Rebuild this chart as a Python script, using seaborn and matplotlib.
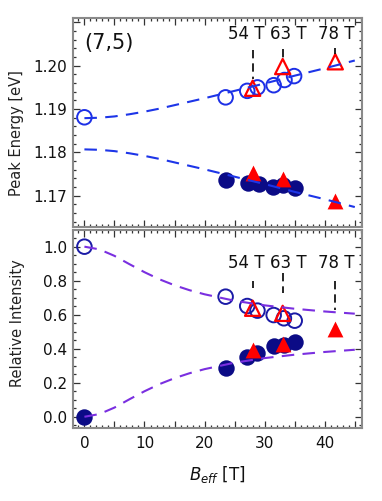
import matplotlib
matplotlib.use("Agg")
import matplotlib.pyplot as plt
import seaborn as sns
import numpy as np
from matplotlib.ticker import MultipleLocator, FuncFormatter, FormatStrFormatter

sns.set_theme(style="white")
plt.rcParams['font.family'] = ['DejaVu Sans']
plt.rcParams['mathtext.fontset'] = 'dejavusans'

# ---------------- data ----------------
# top panel: peak energy [eV]
B_open_top = [0.0, 23.5, 27.1, 28.8, 31.5, 33.3, 34.9]
E_open_top = [1.1881, 1.1927, 1.1942, 1.1950, 1.1955, 1.1967, 1.1976]
B_fill_top = [23.5, 27.3, 29.0, 31.4, 33.1, 35.1]
E_fill_top = [1.1736, 1.1730, 1.1727, 1.1721, 1.1724, 1.1718]
B_tri_top = [28.0, 33.0, 41.75]
E_tri_open = [1.1948, 1.1998, 1.2009]
E_tri_fill = [1.1753, 1.1738, 1.1688]

# bottom panel: relative intensity
B_open_bot = [0.0, 23.5, 27.1, 28.8, 31.5, 33.2, 35.0]
I_open_bot = [1.0, 0.706, 0.651, 0.624, 0.598, 0.579, 0.565]
B_fill_bot = [0.0, 23.5, 27.1, 28.8, 31.5, 33.2, 35.1]
I_fill_bot = [0.0, 0.285, 0.353, 0.373, 0.416, 0.422, 0.441]
B_tri_bot_open = [28.0, 33.0]
I_tri_open = [0.638, 0.608]
B_tri_bot_fill = [28.0, 33.0, 41.75]
I_tri_fill = [0.392, 0.428, 0.515]

# dashed fit curves
B_fit = [0, 2.5, 5, 7.5, 10, 12.5, 15, 17.5, 20, 25, 30, 35, 40, 45]
E_fit_up = [1.1879, 1.1880, 1.1883, 1.1888, 1.1894, 1.1901, 1.1909, 1.1917,
            1.1925, 1.1942, 1.1959, 1.1977, 1.1994, 1.2012]
E_fit_lo = [1.1807, 1.1806, 1.1803, 1.1798, 1.1792, 1.1785, 1.1777, 1.1769,
            1.1761, 1.1744, 1.1727, 1.1709, 1.1692, 1.1674]
I_fit_up = [1.000, 0.984, 0.946, 0.897, 0.850, 0.808, 0.773, 0.744,
            0.720, 0.682, 0.655, 0.635, 0.619, 0.606]
I_fit_lo = [0.000, 0.016, 0.054, 0.103, 0.150, 0.192, 0.227, 0.256,
            0.280, 0.318, 0.345, 0.365, 0.381, 0.394]

# pulsed-field labels
field_labels = ["54 T", "63 T", "78 T"]
label_x = [27.0, 33.9, 41.9]
marker_x = [28.0, 33.0, 41.75]
top_mark_y0 = [1.2036, 1.2038, 1.2040]
top_mark_y1 = [1.1970, 1.2017, 1.2026]
bot_mark_y0 = [0.80, 0.845, 0.80]
bot_mark_y1 = [0.755, 0.725, 0.625]

# ---------------- styling ----------------
c_open_top = "#1c2fe6"
c_open_bot = "#1a1aa6"
c_fill = "#0b0b86"
c_red = "#ff0000"
c_line_top = "#1d35e8"
c_line_bot = "#7a2fe0"
frame_c = "#8a8a8a"

fig = plt.figure(figsize=(3.82, 5.01), dpi=100)
ax1 = fig.add_axes([73/382, 1-227/501, 289/382, 209/501])
ax2 = fig.add_axes([73/382, 1-428/501, 289/382, 198/501])

def style(ax):
    for s in ax.spines.values():
        s.set_color(frame_c)
        s.set_linewidth(1.5)
    ax.tick_params(which='both', direction='in', top=True, right=True,
                   bottom=True, left=True, color='#333333', width=0.9,
                   labelsize=11, labelcolor='#111111', pad=4)
    ax.tick_params(which='major', length=5)
    ax.tick_params(which='minor', length=2.5)
    ax.set_xlim(-1.9, 46.2)
    ax.xaxis.set_major_locator(MultipleLocator(5))
    ax.xaxis.set_minor_locator(MultipleLocator(1))
    ax.grid(False)

# ---- top panel ----
sns.lineplot(x=B_fit, y=E_fit_up, ax=ax1, color=c_line_top, lw=1.5,
             sort=False, zorder=5)
sns.lineplot(x=B_fit, y=E_fit_lo, ax=ax1, color=c_line_top, lw=1.5,
             sort=False, zorder=5)
ax1.lines[0].set_dashes((6, 4)); ax1.lines[1].set_dashes((6, 4))
sns.scatterplot(x=B_fill_top, y=E_fill_top, ax=ax1, marker='o', s=140,
                color=c_fill, edgecolor=c_fill, linewidth=0, zorder=3)
sns.scatterplot(x=B_open_top, y=E_open_top, ax=ax1, marker='o', s=110,
                facecolor='none', edgecolor=c_open_top, linewidth=1.4, zorder=3)
sns.scatterplot(x=B_tri_top, y=E_tri_fill, ax=ax1, marker='^', s=130,
                color=c_red, edgecolor=c_red, linewidth=0, zorder=4)
sns.scatterplot(x=B_tri_top, y=E_tri_open, ax=ax1, marker='^', s=120,
                facecolor='none', edgecolor=c_red, linewidth=1.6, zorder=4)
style(ax1)
ax1.set_ylim(1.1628, 1.2110)
ax1.yaxis.set_major_locator(MultipleLocator(0.01))
ax1.yaxis.set_minor_locator(MultipleLocator(0.002))
ax1.yaxis.set_major_formatter(FuncFormatter(lambda v, p: "" if v > 1.205 else f"{v:.2f}"))
ax1.tick_params(axis='x', labelbottom=False)
ax1.set_ylabel("Peak Energy [eV]", fontsize=10.5, color='#222222')
ax1.yaxis.set_label_coords(-0.17, 0.45)
ax1.text(0.04, 0.93, "(7,5)", transform=ax1.transAxes, fontsize=15,
         ha='left', va='top', color='#111111')
for lab, lx, mx, y0, y1 in zip(field_labels, label_x, marker_x, top_mark_y0, top_mark_y1):
    ax1.text(lx, 1.2072, lab, ha='center', va='center', fontsize=12, color='#111111')
    ax1.plot([mx, mx], [y0, y1], color='black', lw=1.2, ls=(0, (5, 3)), zorder=6)

# ---- bottom panel ----
sns.lineplot(x=B_fit, y=I_fit_up, ax=ax2, color=c_line_bot, lw=1.5,
             sort=False, zorder=5)
sns.lineplot(x=B_fit, y=I_fit_lo, ax=ax2, color=c_line_bot, lw=1.5,
             sort=False, zorder=5)
ax2.lines[0].set_dashes((6, 4)); ax2.lines[1].set_dashes((6, 4))
sns.scatterplot(x=B_fill_bot, y=I_fill_bot, ax=ax2, marker='o', s=140,
                color=c_fill, edgecolor=c_fill, linewidth=0, zorder=3)
sns.scatterplot(x=B_open_bot, y=I_open_bot, ax=ax2, marker='o', s=110,
                facecolor='none', edgecolor=c_open_bot, linewidth=1.4, zorder=3)
sns.scatterplot(x=B_tri_bot_fill, y=I_tri_fill, ax=ax2, marker='^', s=130,
                color=c_red, edgecolor=c_red, linewidth=0, zorder=4)
sns.scatterplot(x=B_tri_bot_open, y=I_tri_open, ax=ax2, marker='^', s=120,
                facecolor='none', edgecolor=c_red, linewidth=1.6, zorder=4)
style(ax2)
ax2.set_ylim(-0.066, 1.098)
ax2.yaxis.set_major_locator(MultipleLocator(0.2))
ax2.yaxis.set_minor_locator(MultipleLocator(0.05))
ax2.yaxis.set_major_formatter(FormatStrFormatter('%.1f'))
ax2.xaxis.set_major_formatter(FuncFormatter(lambda v, p: f"{int(round(v))}" if abs(v/10 - round(v/10)) < 1e-6 else ""))
ax2.tick_params(axis='x', pad=6)
ax2.set_ylabel("Relative Intensity", fontsize=10.5, color='#222222')
ax2.yaxis.set_label_coords(-0.165, 0.53)
ax2.set_xlabel(r"$B_{\mathit{eff}}$ [T]", fontsize=12, color='#111111', labelpad=9)
for lab, lx, mx, y0, y1 in zip(field_labels, label_x, marker_x, bot_mark_y0, bot_mark_y1):
    ax2.text(lx, 0.902, lab, ha='center', va='center', fontsize=12, color='#111111')
    ax2.plot([mx, mx], [y0, y1], color='black', lw=1.2, ls=(0, (5, 3)), zorder=6)

fig.savefig("out.png", dpi=100)
